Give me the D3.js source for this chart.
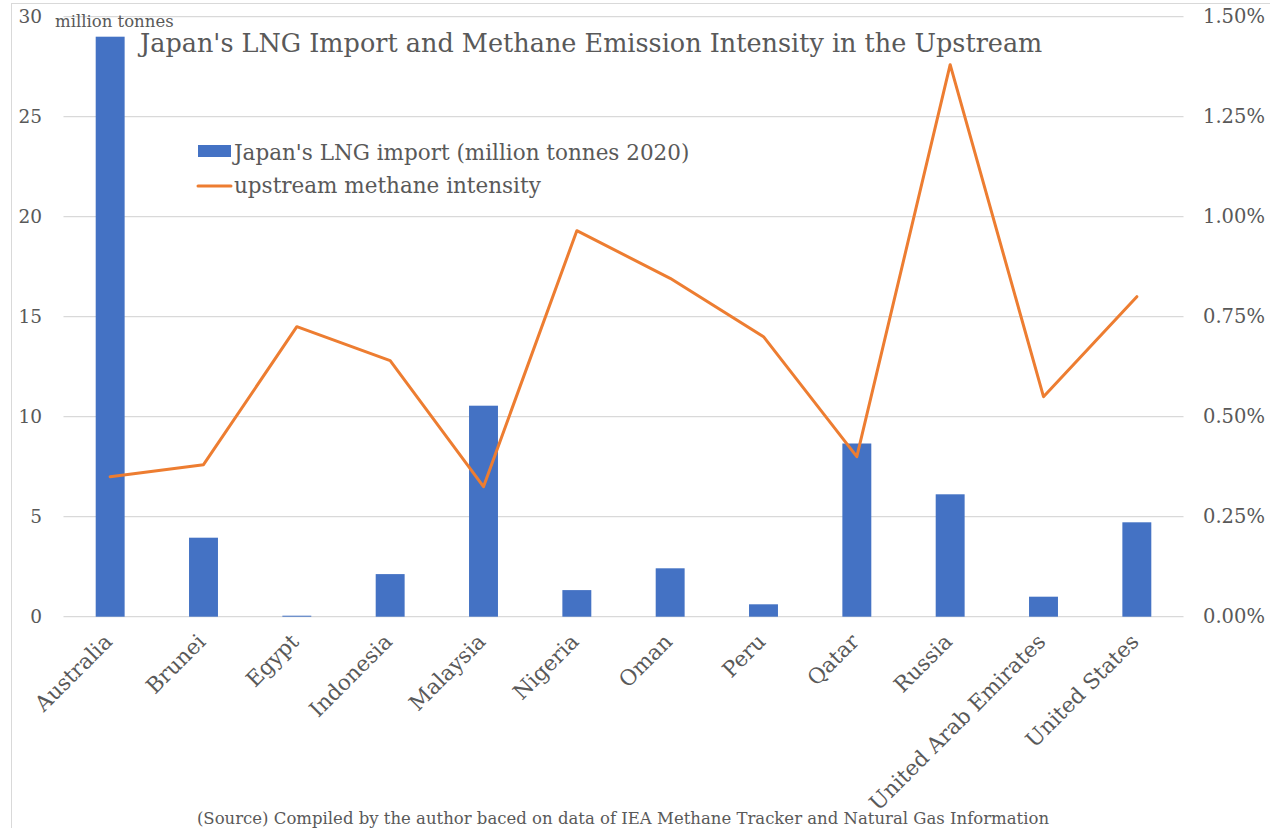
<!DOCTYPE html>
<html>
<head>
<meta charset="utf-8">
<script src="https://cdn.jsdelivr.net/npm/d3@7"></script>
<style>
  html, body { margin: 0; padding: 0; background: #fff; }
  svg text { font-family: "DejaVu Serif", "Liberation Serif", serif; fill: #595959; }
</style>
</head>
<body>
<svg id="chart" width="1270" height="828"></svg>
<script>
// Countries supplying LNG to Japan
const countries = ["Australia", "Brunei", "Egypt", "Indonesia", "Malaysia", "Nigeria",
  "Oman", "Peru", "Qatar", "Russia", "United Arab Emirates", "United States"];
// Japan's LNG import, million tonnes (2020)
const lngImport = [29.0, 3.95, 0.05, 2.13, 10.55, 1.33, 2.42, 0.62, 8.66, 6.12, 1.0, 4.72];
// Upstream methane emission intensity, percent
const methaneIntensity = [0.35, 0.38, 0.725, 0.64, 0.325, 0.965, 0.846, 0.70, 0.40, 1.38, 0.55, 0.80];
// Axis ticks
const leftTicks = [0, 5, 10, 15, 20, 25, 30];
const rightTicks = [0, 0.25, 0.5, 0.75, 1.0, 1.25, 1.5];

const titleText = "Japan's LNG Import and Methane Emission Intensity in the Upstream";
const seriesNames = ["Japan's LNG import (million tonnes 2020)", "upstream methane intensity"];
const unitText = "million tonnes";
const sourceText = "(Source) Compiled by the author baced on data of IEA Methane Tracker and Natural Gas Information";

const BLUE = "#4472C4", ORANGE = "#ED7D31", GRID = "#d9d9d9";

const svg = d3.select("#chart");

// outer chart frame
svg.append("rect")
  .attr("x", 11.5).attr("y", 3.5).attr("width", 1300).attr("height", 900)
  .attr("fill", "none").attr("stroke", "#d9d9d9").attr("stroke-width", 1);

const plot = { left: 63.5, right: 1183.5, top: 16.7, bottom: 616.7 };

const x = d3.scaleBand().domain(countries).range([plot.left, plot.right]).padding(0);
const yL = d3.scaleLinear().domain([0, 30]).range([plot.bottom, plot.top]);
const yR = d3.scaleLinear().domain([0, 1.5]).range([plot.bottom, plot.top]);

// horizontal gridlines
svg.append("g").selectAll("line").data(leftTicks).join("line")
  .attr("x1", plot.left).attr("x2", plot.right)
  .attr("y1", d => yL(d)).attr("y2", d => yL(d))
  .attr("stroke", GRID).attr("stroke-width", 1.3);

// left axis
const leftAxis = svg.append("g")
  .attr("transform", `translate(42,0)`)
  .call(d3.axisLeft(yL).tickValues(leftTicks).tickSize(0).tickPadding(0).tickFormat(d3.format("d")));
leftAxis.select(".domain").remove();
leftAxis.selectAll("text").style("font-size", "18.5px").attr("dy", "0.32em");

// right axis
const rightAxis = svg.append("g")
  .attr("transform", `translate(1203,0)`)
  .call(d3.axisRight(yR).tickValues(rightTicks).tickSize(0).tickPadding(0)
    .tickFormat(d => d3.format(".2f")(d) + "%"));
rightAxis.select(".domain").remove();
rightAxis.selectAll("text").style("font-size", "19.5px").attr("dy", "0.32em");

// bars
const barW = x.bandwidth() * 0.31;
svg.append("g").selectAll("rect").data(countries).join("rect")
  .attr("x", (d) => x(d) + x.bandwidth() / 2 - barW / 2)
  .attr("width", barW)
  .attr("y", (d, i) => yL(lngImport[i]))
  .attr("height", (d, i) => yL(0) - yL(lngImport[i]))
  .attr("fill", BLUE);

// methane intensity line
const line = d3.line()
  .x((d, i) => x(countries[i]) + x.bandwidth() / 2)
  .y(d => yR(d));
svg.append("path")
  .datum(methaneIntensity)
  .attr("d", line)
  .attr("fill", "none")
  .attr("stroke", ORANGE)
  .attr("stroke-width", 3)
  .attr("stroke-linejoin", "round")
  .attr("stroke-linecap", "round");

// category labels
svg.append("g").selectAll("text").data(countries).join("text")
  .attr("transform", d => `translate(${x(d) + x.bandwidth() / 2 - 2},${plot.bottom + 21}) rotate(-45)`)
  .attr("text-anchor", "end")
  .attr("dy", "0.35em")
  .style("font-size", "21.5px")
  .text(d => d);

// title and unit
svg.append("text").attr("x", 140).attr("y", 52).style("font-size", "25.5px").text(titleText);
svg.append("text").attr("x", 55).attr("y", 27).style("font-size", "16.5px").text(unitText);

// legend
const legend = svg.append("g");
legend.append("rect").attr("x", 198).attr("y", 145).attr("width", 33).attr("height", 12).attr("fill", BLUE);
legend.append("text").attr("x", 234).attr("y", 160).style("font-size", "21.5px").text(seriesNames[0]);
legend.append("line").attr("x1", 198).attr("x2", 231).attr("y1", 186).attr("y2", 186)
  .attr("stroke", ORANGE).attr("stroke-width", 3).attr("stroke-linecap", "round");
legend.append("text").attr("x", 234).attr("y", 193).style("font-size", "21.5px").text(seriesNames[1]);

// source note
svg.append("text").attr("x", 623).attr("y", 824).attr("text-anchor", "middle")
  .style("font-size", "16.5px").text(sourceText);
</script>
</body>
</html>
